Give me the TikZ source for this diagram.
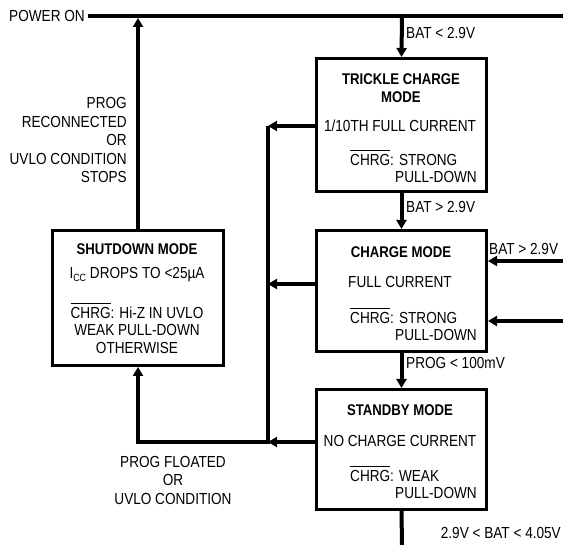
\documentclass[tikz,border=0pt]{standalone}
\usepackage{fontspec}
\setmainfont{Liberation Sans}[FakeStretch=0.85]
\usetikzlibrary{arrows.meta}
\newcommand\barred[1]{\setbox0\hbox{#1}\rlap{\rule[\dimexpr\ht0+3.5pt\relax]{\wd0}{1.1pt}}\box0}
\begin{document}
\begin{tikzpicture}[x=1pt,y=-1pt,
  box/.style={draw,line width=3pt,minimum width=170pt,inner sep=0pt},
  wire/.style={line width=4pt},
  arr/.style={line width=4pt,-{Triangle[width=10pt,length=9pt]}},
  txt/.style={inner sep=0pt,font=\fontsize{16}{18.5}\selectfont},
  ttl/.style={inner sep=0pt,font=\fontsize{15.5}{18}\selectfont\bfseries}]
\useasboundingbox (0,0) rectangle (563,545);
% boxes
\node[box,minimum height=133pt] (trickle) at (401.5,125) {};
\node[box,minimum height=121pt] (charge) at (401.5,291) {};
\node[box,minimum height=120pt] (standby) at (401.5,449.5) {};
\node[box,minimum width=171pt,minimum height=135pt] (shutdown) at (138,298) {};
% coordinates
\node[txt,anchor=east] (pwr) at (85,16) {POWER ON};
\coordinate (pwrR) at (563,16);
\coordinate (pwrA) at (138,18);
\coordinate (pwrB) at (402,16);
\coordinate (bT) at (268,126);
\coordinate (bC) at (268,284);
\coordinate (bS) at (268,442);
\coordinate (cL) at (138,442);
\coordinate (r1) at (563,261);
\coordinate (r2) at (563,321);
\coordinate (bot) at (402,545);
% connectors
\draw[wire] ([xshift=3pt]pwr.east) -- (pwrR);
\draw[arr] (shutdown.north) -- (pwrA);
\draw[arr] (pwrB) -- (trickle.north);
\draw[arr] (trickle.south) -- (charge.north);
\draw[arr] (charge.south) -- (standby.north);
\draw[wire] (standby.south) -- (bot);
\draw[arr] (trickle.west |- bT) -- (bT);
\draw[arr] (charge.west |- bC) -- (bC);
\draw[arr] (standby.west |- bS) -- (bS);
\draw[arr] (bT) -- (bS) -- (cL) -- (shutdown.south);
\draw[arr] (r1) -- (charge.east |- r1);
\draw[arr] (r2) -- (charge.east |- r2);
% labels
\node[txt,anchor=west] (l1) at (406,33) {BAT < 2.9V};
\node[txt,anchor=west] (l2) at (406,207) {BAT > 2.9V};
\node[txt,anchor=west] (l3) at (406,363) {PROG < 100mV};
\node[txt,anchor=west] (l4) at (489,249) {BAT > 2.9V};
\node[txt,anchor=east] (l5) at (561,533) {2.9V < BAT < 4.05V};
\node[txt,anchor=east,align=right] (l6) at (127,140) {PROG\\RECONNECTED\\OR\\UVLO CONDITION\\STOPS};
\node[txt,align=center] (l7) at (173,480) {PROG FLOATED\\OR\\UVLO CONDITION};
% trickle text
\node[ttl] (t1) at (401,79) {TRICKLE CHARGE};
\node[ttl] (t2) at (401,97) {MODE};
\node[txt] (t3) at (400,126) {1/10TH FULL CURRENT};
\node[txt,anchor=west] (t4) at (350,158) {\barred{CHRG}: STRONG};
\node[txt,anchor=east] (t5) at (477,177) {PULL-DOWN};
% charge text
\node[ttl] (c1) at (401,252) {CHARGE MODE};
\node[txt] (c2) at (400,282) {FULL CURRENT};
\node[txt,anchor=west] (c3) at (350,316) {\barred{CHRG}: STRONG};
\node[txt,anchor=east] (c4) at (477,335) {PULL-DOWN};
% standby text
\node[ttl] (s1) at (400,410) {STANDBY MODE};
\node[txt] (s2) at (400,441) {NO CHARGE CURRENT};
\node[txt,anchor=west] (s3) at (350,474) {\barred{CHRG}: WEAK};
\node[txt,anchor=east] (s4) at (477,493) {PULL-DOWN};
% shutdown text
\node[ttl] (d1) at (137,249) {SHUTDOWN MODE};
\node[txt] (d2) at (137,275) {I\raisebox{-3pt}{\fontsize{10.5}{10}\selectfont CC} DROPS TO <25µA};
\node[txt] (d3) at (137,311) {\barred{CHRG}: Hi-Z IN UVLO};
\node[txt] (d4) at (137,330) {WEAK PULL-DOWN};
\node[txt] (d5) at (137,348) {OTHERWISE};
\end{tikzpicture}
\end{document}
